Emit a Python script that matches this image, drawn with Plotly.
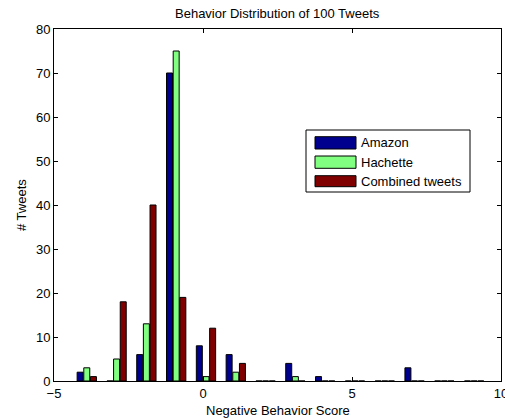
import plotly.graph_objects as go

centers = [-3.9, -2.9, -1.9, -0.9, 0.1, 1.1, 2.1, 3.1, 4.1, 5.1, 6.1, 7.1, 8.1, 9.1]
amazon = [2, 0, 6, 70, 8, 6, 0, 4, 1, 0, 0, 3, 0, 0]
hachette = [3, 5, 13, 75, 1, 2, 0, 1, 0, 0, 0, 0, 0, 0]
combined = [1, 18, 40, 19, 12, 4, 0, 0, 0, 0, 0, 0, 0, 0]
series_names = ["Amazon", "Hachette", "Combined tweets"]
colors = ["#00008F", "#80FF80", "#800000"]
x_ticks = [-5, 0, 5, 10]
y_ticks = [0, 10, 20, 30, 40, 50, 60, 70, 80]

W, H = 505, 418
L, R, T, B = 54, 4, 29, 37
PW, PH = W - L - R, H - T - B


def px(x):
    return (x - L) / PW


def py(y):
    return (H - B - y) / PH


fig = go.Figure()
for name, vals, col in zip(series_names, [amazon, hachette, combined], colors):
    fig.add_trace(go.Bar(x=centers, y=vals, name=name, marker_color=col,
                         marker_line=dict(color="black", width=1), showlegend=False))

axis_common = dict(showline=True, linecolor="black", linewidth=1, mirror="ticks",
                   ticks="inside", ticklen=4, tickcolor="black", showgrid=False,
                   zeroline=False, automargin=False, ticklabeloverflow="allow",
                   tickfont=dict(size=13, color="black"))

# custom MATLAB-style legend
shapes = [dict(type="rect", xref="paper", yref="paper", x0=px(306), x1=px(470),
               y0=py(192), y1=py(130), line=dict(color="black", width=1),
               fillcolor="white", layer="above")]
annotations = []
rows = [(136.7, 149), (156, 168.3), (175.7, 186.7)]
for (y0, y1), name, col in zip(rows, series_names, colors):
    shapes.append(dict(type="rect", xref="paper", yref="paper", x0=px(315), x1=px(356),
                       y0=py(y1), y1=py(y0), line=dict(color="black", width=1),
                       fillcolor=col, layer="above"))
    annotations.append(dict(text=name, xref="paper", yref="paper", x=px(359),
                            y=py((y0 + y1) / 2), xanchor="left", yanchor="middle",
                            showarrow=False, font=dict(size=13)))

annotations += [
    dict(text="Behavior Distribution of 100 Tweets", xref="paper", yref="paper",
         x=0.5, y=py(13), xanchor="center", yanchor="middle", showarrow=False,
         font=dict(size=13)),
    dict(text="Negative Behavior Score", xref="paper", yref="paper",
         x=0.5, y=py(410.5), xanchor="center", yanchor="middle", showarrow=False,
         font=dict(size=13)),
    dict(text="# Tweets", xref="paper", yref="paper", textangle=-90,
         x=px(21), y=0.5, xanchor="center", yanchor="middle", showarrow=False,
         font=dict(size=13)),
]

fig.update_layout(
    width=W, height=H,
    margin=dict(l=L, r=R, t=T, b=B, autoexpand=False),
    paper_bgcolor="white", plot_bgcolor="white",
    font=dict(family="Liberation Sans, Arial, sans-serif", size=13, color="black"),
    barmode="group", bargap=0.33, bargroupgap=0.1,
    xaxis=dict(range=[-5, 10], tickvals=x_ticks, **axis_common),
    yaxis=dict(range=[0, 80], tickvals=y_ticks, **axis_common),
    shapes=shapes, annotations=annotations,
)

fig.write_html("out.html", config={"displayModeBar": False},
               post_script="document.body.style.margin='0';document.body.style.padding='0';")
